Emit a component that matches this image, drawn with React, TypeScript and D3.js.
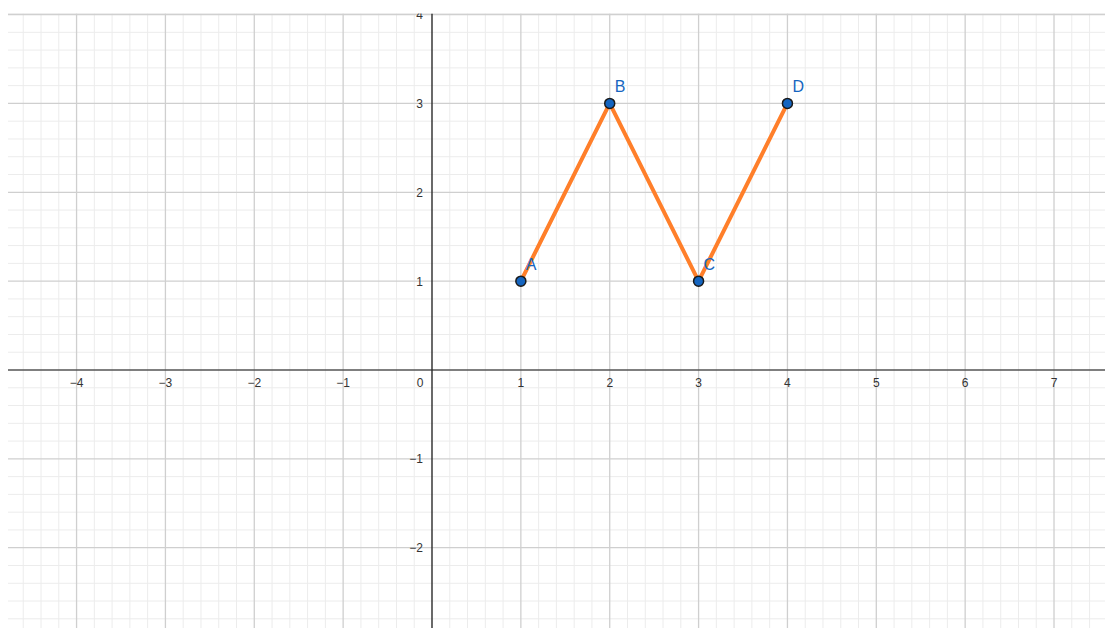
import React from "react";
import * as d3 from "d3";

const pointNames = ["A", "B", "C", "D"];
const pointX = [1, 2, 3, 4];
const pointY = [1, 3, 1, 3];
const xTicks = [-4, -3, -2, -1, 1, 2, 3, 4, 5, 6, 7];
const yTicks = [-2, -1, 1, 2, 3, 4];

const W = 1105;
const H = 628;
const LEFT = 8;
const TOP = 13.5;
const UNIT = 88.86;
const X0 = 432;
const Y0 = 370;

export default function App() {
  const x = d3.scaleLinear().domain([0, 1]).range([X0, X0 + UNIT]);
  const y = d3.scaleLinear().domain([0, 1]).range([Y0, Y0 - UNIT]);
  const xMin = x.invert(LEFT);
  const xMax = x.invert(W);
  const yMax = y.invert(TOP);
  const yMin = y.invert(H);

  const minorX: number[] = [];
  for (let v = Math.ceil(xMin * 5); v <= Math.floor(xMax * 5); v++) if (v % 5 !== 0) minorX.push(v / 5);
  const minorY: number[] = [];
  for (let v = Math.ceil(yMin * 5); v <= Math.floor(yMax * 5); v++) if (v % 5 !== 0) minorY.push(v / 5);
  const majorX: number[] = d3.range(Math.ceil(xMin), Math.floor(xMax) + 1).filter((v) => v !== 0);
  const majorY: number[] = d3.range(Math.ceil(yMin), Math.floor(yMax) + 1).filter((v) => v !== 0);

  const pts = pointX.map((px, i) => [px, pointY[i]] as [number, number]);
  const line = d3
    .line<[number, number]>()
    .x((d) => x(d[0]))
    .y((d) => y(d[1]));

  const fmt = (v: number) => (v < 0 ? "\u2212" + Math.abs(v) : String(v));
  const font = "'Liberation Sans', Arial, sans-serif";

  return (
    <svg
      width={W}
      height={H}
      style={{ position: "absolute", left: 0, top: 0, display: "block", background: "#fff" }}
    >
      <defs>
        <clipPath id="plot">
          <rect x={LEFT} y={TOP} width={W - LEFT} height={H - TOP} />
        </clipPath>
      </defs>
      <g clipPath="url(#plot)">
        <rect x={LEFT} y={TOP} width={W - LEFT} height={H - TOP} fill="#fff" />
        {minorX.map((v) => (
          <line key={"mx" + v} x1={x(v)} x2={x(v)} y1={TOP} y2={H} stroke="#ececec" strokeWidth={1} />
        ))}
        {minorY.map((v) => (
          <line key={"my" + v} y1={y(v)} y2={y(v)} x1={LEFT} x2={W} stroke="#ececec" strokeWidth={1} />
        ))}
        {majorX.map((v) => (
          <line key={"Mx" + v} x1={x(v)} x2={x(v)} y1={TOP} y2={H} stroke="#cfcfcf" strokeWidth={1.3} />
        ))}
        {majorY.map((v) => (
          <line key={"My" + v} y1={y(v)} y2={y(v)} x1={LEFT} x2={W} stroke="#cfcfcf" strokeWidth={1.3} />
        ))}
        <line x1={LEFT} x2={W} y1={TOP + 0.5} y2={TOP + 0.5} stroke="#d0d0d0" strokeWidth={1.5} />
        {/* axes */}
        <line x1={LEFT} x2={W} y1={y(0)} y2={y(0)} stroke="#555" strokeWidth={1.6} />
        <line x1={x(0)} x2={x(0)} y1={TOP} y2={H} stroke="#2a2a2a" strokeWidth={1.4} />
        {/* tick labels */}
        {xTicks.map((v) => (
          <text
            key={"tx" + v}
            x={x(v)}
            y={y(0) + 17}
            textAnchor="middle"
            fontFamily={font}
            fontSize={12}
            fill="#333"
          >
            {fmt(v)}
          </text>
        ))}
        <text x={x(0) - 12} y={y(0) + 17} textAnchor="middle" fontFamily={font} fontSize={12} fill="#333">
          0
        </text>
        {yTicks.map((v) => (
          <text
            key={"ty" + v}
            x={x(0) - 9}
            y={y(v) + 4.5}
            textAnchor="end"
            fontFamily={font}
            fontSize={12}
            fill="#333"
          >
            {fmt(v)}
          </text>
        ))}
        {/* polyline */}
        <path
          d={line(pts) || ""}
          fill="none"
          stroke="#ff7f2a"
          strokeWidth={4}
          strokeLinejoin="round"
          strokeLinecap="round"
        />
        {pts.map((p, i) => (
          <g key={pointNames[i]}>
            <circle cx={x(p[0])} cy={y(p[1])} r={5} fill="#1565c0" stroke="#1a1a1a" strokeWidth={1.5} />
            <text
              x={x(p[0]) + 5}
              y={y(p[1]) - 11}
              fontFamily={font}
              fontSize={16}
              fill="#1565c0"
            >
              {pointNames[i]}
            </text>
          </g>
        ))}
      </g>
    </svg>
  );
}
